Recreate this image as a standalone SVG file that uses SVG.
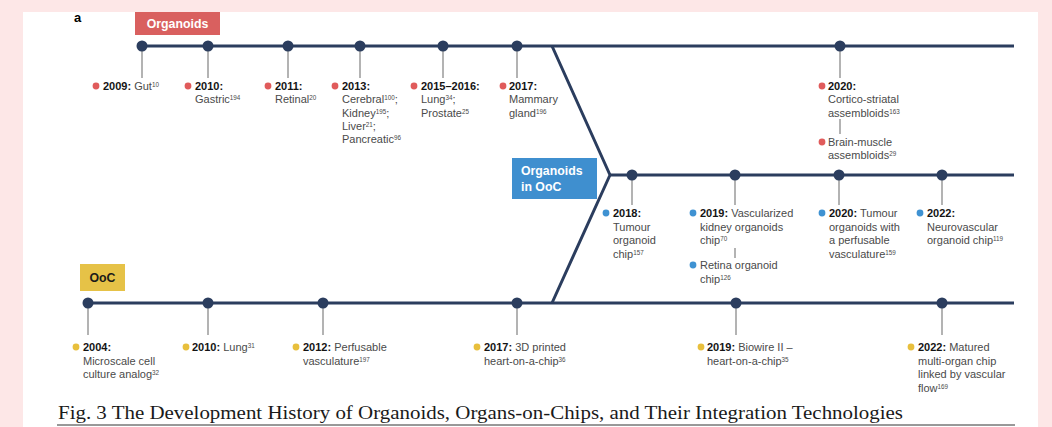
<svg xmlns="http://www.w3.org/2000/svg" width="1052" height="427" viewBox="0 0 1052 427">
<style>
text{font-family:"Liberation Sans",Arial,sans-serif;font-size:11px;fill:#4a4a4a}
.yr{font-weight:700;fill:#141414}
.sup{font-size:6.3px;baseline-shift:super}
.tl{stroke:#2b3d5e;stroke-width:3;fill:none;stroke-linejoin:round}
.nd{fill:#2b3d5e}
.stem{stroke:#9a9a9a;stroke-width:1.5}
.r{fill:#e05b5b}.b{fill:#3f92d2}.y{fill:#e8bf3c}
.lbl{font-weight:700;font-size:12.3px;fill:#fff}
.cap{font-family:"Liberation Serif","Times New Roman",serif;font-size:19px;fill:#1a1a1a}
</style>
<rect width="1052" height="427" fill="#fde7e7"/>
<rect x="23" y="12" width="1015" height="415" fill="#fff"/>
<text x="74" y="22" style="font-weight:700;font-size:13px;fill:#000">a</text>
<g id="connectors">
<path class="tl" d="M142 46H1014"/>
<path class="tl" d="M88 303H1014"/>
<path class="tl" d="M610 175H1014"/>
<path class="tl" d="M552 46L610 175L552 303"/>
<g class="stem">
<path d="M142 51V78M208 51V78M288 51V78M360 51V78M443 51V78M517 51V78M840 51V78M840 119V134"/>
<path d="M632 180V205M735 180V205M839 180V205M942 180V205M735 248V258"/>
<path d="M88 308V335M208 308V335M323 308V335M517 308V335M736 308V335M942 308V335"/>
</g>
<g class="nd">
<circle cx="142" cy="46" r="5.5"/><circle cx="208" cy="46" r="5.5"/><circle cx="288" cy="46" r="5.5"/><circle cx="360" cy="46" r="5.5"/><circle cx="443" cy="46" r="5.5"/><circle cx="517" cy="46" r="5.5"/><circle cx="840" cy="46" r="5.5"/>
<circle cx="632" cy="175" r="5.5"/><circle cx="735" cy="175" r="5.5"/><circle cx="839" cy="175" r="5.5"/><circle cx="942" cy="175" r="5.5"/>
<circle cx="88" cy="303" r="5.5"/><circle cx="208" cy="303" r="5.5"/><circle cx="323" cy="303" r="5.5"/><circle cx="517" cy="303" r="5.5"/><circle cx="736" cy="303" r="5.5"/><circle cx="942" cy="303" r="5.5"/>
</g>
</g>
<g id="label-organoids"><rect x="135" y="12" width="85" height="23" fill="#d9605f"/><text class="lbl" x="177.5" y="28" text-anchor="middle">Organoids</text></g>
<g id="label-ooc-int"><rect x="512" y="158" width="85" height="41" fill="#3f8fcf"/><text class="lbl" x="521" y="175">Organoids</text><text class="lbl" x="521" y="191">in OoC</text></g>
<g id="label-ooc"><rect x="80" y="264" width="45" height="27" fill="#e6c247"/><text class="lbl" x="102.5" y="282" text-anchor="middle" style="fill:#1a1a1a">OoC</text></g>

<g id="o2009"><circle class="r" cx="96" cy="86" r="3.4"/><text x="103" y="90"><tspan class="yr">2009:</tspan> Gut<tspan class="sup">10</tspan></text></g>
<g id="o2010"><circle class="r" cx="188" cy="86" r="3.4"/><text x="195" y="90"><tspan class="yr">2010:</tspan><tspan x="195" dy="13.3">Gastric</tspan><tspan class="sup">194</tspan></text></g>
<g id="o2011"><circle class="r" cx="268" cy="86" r="3.4"/><text x="275" y="90"><tspan class="yr">2011:</tspan><tspan x="275" dy="13.3">Retinal</tspan><tspan class="sup">20</tspan></text></g>
<g id="o2013"><circle class="r" cx="335" cy="86" r="3.4"/><text x="342" y="90"><tspan class="yr">2013:</tspan><tspan x="342" dy="13.3">Cerebral</tspan><tspan class="sup">100</tspan>;<tspan x="342" dy="13.3">Kidney</tspan><tspan class="sup">195</tspan>;<tspan x="342" dy="13.3">Liver</tspan><tspan class="sup">21</tspan>;<tspan x="342" dy="13.3">Pancreatic</tspan><tspan class="sup">96</tspan></text></g>
<g id="o2015"><circle class="r" cx="414" cy="86" r="3.4"/><text x="421" y="90"><tspan class="yr">2015–2016:</tspan><tspan x="421" dy="13.3">Lung</tspan><tspan class="sup">34</tspan>;<tspan x="421" dy="13.3">Prostate</tspan><tspan class="sup">25</tspan></text></g>
<g id="o2017"><circle class="r" cx="503" cy="86" r="3.4"/><text x="509" y="90"><tspan class="yr">2017:</tspan><tspan x="509" dy="13.3">Mammary</tspan><tspan x="509" dy="13.3">gland</tspan><tspan class="sup">196</tspan></text></g>
<g id="o2020"><circle class="r" cx="822" cy="86" r="3.4"/><text x="828" y="90"><tspan class="yr">2020:</tspan><tspan x="828" dy="13.3">Cortico-striatal</tspan><tspan x="828" dy="13.3">assembloids</tspan><tspan class="sup">163</tspan></text>
<circle class="r" cx="822" cy="142" r="3.4"/><text x="828" y="146">Brain-muscle<tspan x="828" dy="13.3">assembloids</tspan><tspan class="sup">29</tspan></text></g>

<g id="i2018"><circle class="b" cx="606" cy="213" r="3.4"/><text x="613" y="217"><tspan class="yr">2018:</tspan><tspan x="613" dy="13.5">Tumour</tspan><tspan x="613" dy="13.5">organoid</tspan><tspan x="613" dy="13.5">chip</tspan><tspan class="sup">157</tspan></text></g>
<g id="i2019"><circle class="b" cx="693" cy="213" r="3.4"/><text x="700" y="217"><tspan class="yr">2019:</tspan> Vascularized<tspan x="700" dy="13.5">kidney organoids</tspan><tspan x="700" dy="13.5">chip</tspan><tspan class="sup">70</tspan></text>
<circle class="b" cx="693" cy="265" r="3.4"/><text x="700" y="269">Retina organoid<tspan x="700" dy="13.5">chip</tspan><tspan class="sup">126</tspan></text></g>
<g id="i2020"><circle class="b" cx="822" cy="213" r="3.4"/><text x="829" y="217"><tspan class="yr">2020:</tspan> Tumour<tspan x="829" dy="13.5">organoids with</tspan><tspan x="829" dy="13.5">a perfusable</tspan><tspan x="829" dy="13.5">vasculature</tspan><tspan class="sup">159</tspan></text></g>
<g id="i2022"><circle class="b" cx="920" cy="213" r="3.4"/><text x="927" y="217"><tspan class="yr">2022:</tspan><tspan x="927" dy="13.5">Neurovascular</tspan><tspan x="927" dy="13.5">organoid chip</tspan><tspan class="sup">119</tspan></text></g>

<g id="c2004"><circle class="y" cx="76" cy="347" r="3.4"/><text x="83" y="351"><tspan class="yr">2004:</tspan><tspan x="83" dy="13.5">Microscale cell</tspan><tspan x="83" dy="13.5">culture analog</tspan><tspan class="sup">32</tspan></text></g>
<g id="c2010"><circle class="y" cx="186" cy="347" r="3.4"/><text x="192" y="351"><tspan class="yr">2010:</tspan> Lung<tspan class="sup">31</tspan></text></g>
<g id="c2012"><circle class="y" cx="296" cy="347" r="3.4"/><text x="303" y="351"><tspan class="yr">2012:</tspan> Perfusable<tspan x="303" dy="13.5">vasculature</tspan><tspan class="sup">197</tspan></text></g>
<g id="c2017"><circle class="y" cx="477" cy="347" r="3.4"/><text x="484" y="351"><tspan class="yr">2017:</tspan> 3D printed<tspan x="484" dy="13.5">heart-on-a-chip</tspan><tspan class="sup">36</tspan></text></g>
<g id="c2019"><circle class="y" cx="701" cy="347" r="3.4"/><text x="707" y="351"><tspan class="yr">2019:</tspan> Biowire II –<tspan x="707" dy="13.5">heart-on-a-chip</tspan><tspan class="sup">35</tspan></text></g>
<g id="c2022"><circle class="y" cx="911" cy="347" r="3.4"/><text x="918" y="351"><tspan class="yr">2022:</tspan> Matured<tspan x="918" dy="13.5">multi-organ chip</tspan><tspan x="918" dy="13.5">linked by vascular</tspan><tspan x="918" dy="13.5">flow</tspan><tspan class="sup">169</tspan></text></g>

<text class="cap" x="58" y="419" textLength="845" lengthAdjust="spacingAndGlyphs">Fig. 3 The Development History of Organoids, Organs-on-Chips, and Their Integration Technologies</text>
<line x1="57" y1="425" x2="1015" y2="425" stroke="#333" stroke-width="1"/>
</svg>
